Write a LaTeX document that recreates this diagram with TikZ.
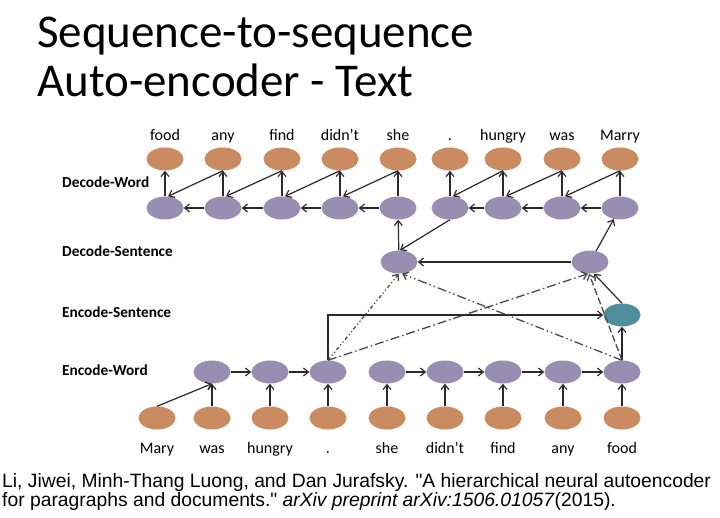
\documentclass[tikz,border=0pt]{standalone}
\usepackage{fontspec}
\setmainfont{Carlito}
\newfontfamily\arialf{Liberation Sans}
\usetikzlibrary{shapes.geometric,arrows.meta}
\definecolor{ora}{HTML}{C98B5F}
\definecolor{pur}{HTML}{988EB2}
\definecolor{tea}{HTML}{4E8F9B}
\definecolor{ln}{HTML}{2A2A2A}
\tikzset{
  ov/.style={ellipse, draw=none, minimum width=37pt, minimum height=23pt, inner sep=0pt},
  on/.style={ov, fill=ora},
  pn/.style={ov, fill=pur},
  tn/.style={ov, fill=tea},
  wd/.style={anchor=base, font=\fontsize{16}{16}\selectfont, inner sep=0pt},
  lab/.style={anchor=base west, font=\fontsize{15.3}{15.3}\selectfont\bfseries, inner sep=0pt},
  ar/.style={draw=ln, line width=1.2pt, -{Straight Barb[length=5pt,width=8pt]}},
  dl/.style={ar, draw=ln!85, line width=1.3pt},
  ttl/.style={anchor=base west, font=\fontsize{47}{47}\selectfont, inner sep=0pt},
  cit/.style={anchor=base west, font=\arialf\fontsize{19.3}{19.3}\selectfont, inner sep=0pt},
}
\begin{document}
\begin{tikzpicture}[x=1pt,y=-1pt]
\useasboundingbox (0,0) rectangle (720,518);
\fill[white] (0,0) rectangle (720,518);
% title
\node[ttl] (t1) at (37,48) {Sequence-to-sequence};
\node[ttl] (t2) at (37,97) {Auto-encoder - Text};
% left labels
\node[lab] (l1) at (62,188) {Decode-Word};
\node[lab] (l2) at (62,257) {Decode-Sentence};
\node[lab] (l3) at (62,318) {Encode-Sentence};
\node[lab] (l4) at (62,375) {Encode-Word};
% top rows
\foreach \i/\x/\w in {1/165/food,2/223/any,3/282/find,4/340/didn’t,5/398/she,6/450/.,7/503/hungry,8/562/was,9/620/Marry}{
  \node[on] (to\i) at (\x,159) {};
  \node[pn] (tp\i) at (\x,208) {};
  \node[wd] (tw\i) at (\x,141) {\w};
}
% decode sentence
\node[pn] (ds1) at (399,262) {};
\node[pn] (ds2) at (590,262) {};
% encode sentence
\node[tn] (es) at (622,315) {};
% bottom rows
\foreach \i/\x/\w in {1/157/Mary,2/212/was,3/270/hungry,4/328/.,5/387/she,6/445/didn’t,7/503/find,8/563/any,9/622/food}{
  \node[on] (bo\i) at (\x,418) {};
  \node[wd] (bw\i) at (\x,453) {\w};
}
\foreach \i/\x in {2/212,3/270,4/328,5/387,6/445,7/503,8/563,9/622}{
  \node[pn] (bp\i) at (\x,372) {};
}
% top connectors
\foreach \i in {1,...,9}{ \draw[ar] (tp\i) -- (to\i); }
\foreach \i/\j in {1/2,2/3,3/4,4/5,6/7,7/8,8/9}{
  \draw[ar] (to\j.south) -- ([xshift=3pt]tp\i.north);
  \draw[ar] (tp\j) -- (tp\i);
}
\draw[ar] (ds1) -- (tp5);
\draw[ar] (tp6.south) -- ([xshift=1pt]ds1.north);
\draw[ar] (ds2) -- (tp9);
\draw[ar] (ds2) -- (ds1);
\draw[ar] (es.north) -- ([xshift=4pt]ds2.south);
\draw[ar] (bp4.north) |- (es.west);
\draw[ar] (bp9) -- (es);
% dashed connectors
\draw[dl, dash pattern=on 3.5pt off 2.5pt on 1.2pt off 2.5pt on 1.2pt off 2.5pt] (bp4.north) -- (ds1.south);
\draw[dl, dash pattern=on 9pt off 3pt on 1.5pt off 3pt] (bp4.north) -- ([xshift=-2pt]ds2.south);
\draw[dl, dash pattern=on 9pt off 3pt on 1.5pt off 3pt on 1.5pt off 3pt] (bp9.north) -- ([xshift=3pt]ds1.south);
\draw[dl, dash pattern=on 7pt off 3pt] (bp9.north) -- ([xshift=-1pt]ds2.south);
% bottom connectors
\foreach \i in {2,...,9}{ \draw[ar] (bo\i) -- (bp\i); }
\draw[ar] (bo1.north) -- (bp2.south);
\foreach \i/\j in {2/3,3/4,5/6,6/7,7/8,8/9}{ \draw[ar] (bp\i) -- (bp\j); }
% citation
\node[cit] (c1) at (2,487) {Li, Jiwei, Minh-Thang Luong, and Dan Jurafsky. "A hierarchical neural autoencoder};
\node[cit] (c2) at (2,506) {for paragraphs and documents." \textit{arXiv preprint arXiv:1506.01057}(2015).};
\end{tikzpicture}
\end{document}
